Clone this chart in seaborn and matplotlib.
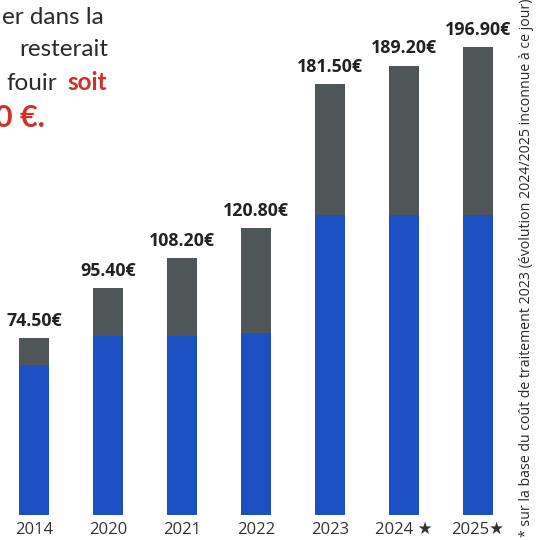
import matplotlib
matplotlib.use("Agg")
import matplotlib.pyplot as plt
import seaborn as sns
import pandas as pd

years = ["2014", "2020", "2021", "2022", "2023", "2024 ★", "2025★"]
totals = [74.50, 95.40, 108.20, 120.80, 181.50, 189.20, 196.90]
blue_part = [63.2, 75.4, 75.4, 76.6, 126.3, 126.3, 126.3]
labels = ["74.50€", "95.40€", "108.20€", "120.80€", "181.50€", "189.20€", "196.90€"]

sns.set_theme(style="white")
plt.rcParams['font.family'] = ['Open Sans', 'DejaVu Sans']

W, H = 539, 540
fig = plt.figure(figsize=(W / 100, H / 100), dpi=100)
ax = fig.add_axes([0, 25 / H, 1, 1 - 25 / H])

df = pd.DataFrame({"year": years, "total": totals, "blue": blue_part})
GRAY = "#4e5657"
BLUE = "#1c50c2"
sns.barplot(data=df, x="year", y="total", color=GRAY, saturation=1, width=0.405, linewidth=0, ax=ax)
sns.barplot(data=df, x="year", y="blue", color=BLUE, saturation=1, width=0.405, linewidth=0, ax=ax)

x0 = -34 / 74
ax.set_xlim(x0, x0 + W / 74)
ax.set_ylim(0, 515 / 2.375)

for i, (t, lab) in enumerate(zip(totals, labels)):
    ax.annotate(lab, (i, t), xytext=(0, 6), textcoords="offset points",
                ha="center", va="bottom", fontsize=12.8, fontweight="bold", color="#222222")

for s in ax.spines.values():
    s.set_visible(False)
ax.set_xlabel("")
ax.set_ylabel("")
ax.set_yticks([])
ax.tick_params(axis="x", length=0, pad=5, labelsize=12, labelcolor="#333333")

def fx(px):
    return px / W

def fy(py):
    return 1 - py / H

txtc = "#2a2a2a"
red = "#d0302a"
fam = ["Lato", "DejaVu Sans"]
fig.text(fx(104), fy(18), "er dans la", ha="right", va="center", fontsize=17.5, color=txtc, family=fam)
fig.text(fx(108), fy(50), "resterait", ha="right", va="center", fontsize=17.5, color=txtc, family=fam)
fig.text(fx(57), fy(83), "fouir", ha="right", va="center", fontsize=17.5, color=txtc, family=fam)
fig.text(fx(107), fy(83), "soit", ha="right", va="center", fontsize=17.5, fontweight="bold", color=red, family=fam)
fig.text(fx(-5), fy(118), "0 €.", ha="left", va="center", fontsize=22, fontweight="bold", color=red, family=fam)

fig.text(fx(527), fy(537), "* sur la base du coût de traitement 2023 (évolution 2024/2025 inconnue à ce jour)",
         rotation=90, rotation_mode="anchor", ha="left", va="center", fontsize=10.2, color=txtc)

fig.savefig("out.png", dpi=100)
